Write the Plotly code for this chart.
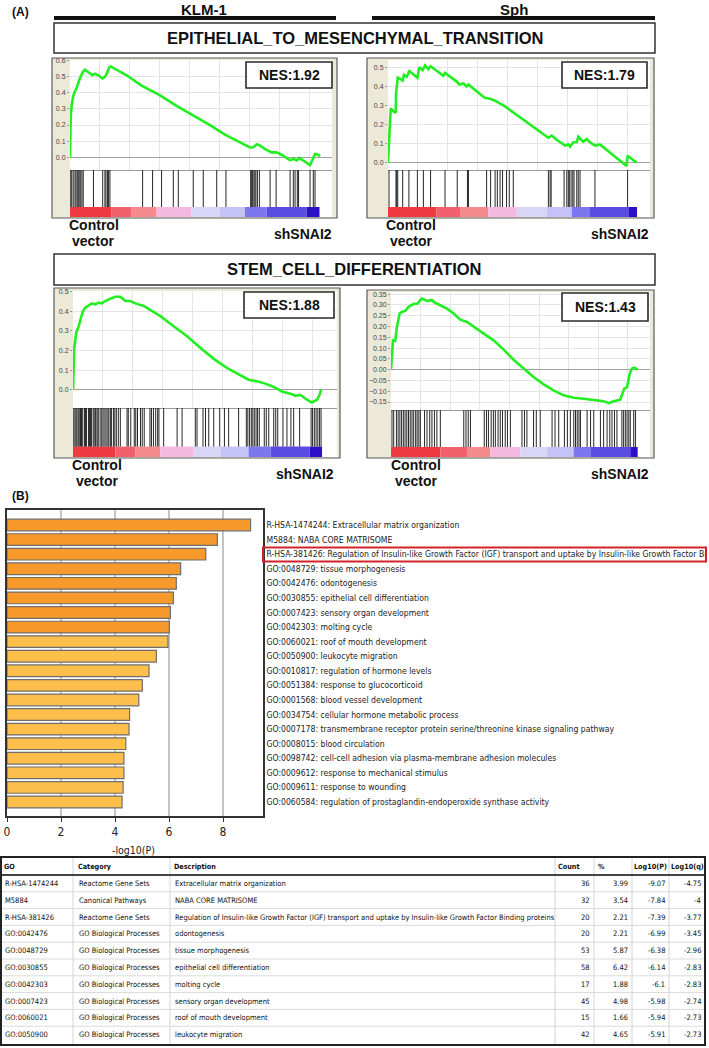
import plotly.graph_objects as go

# ======================= DATA =======================
cell_lines = ["KLM-1", "Sph"]
gene_sets = ["EPITHELIAL_TO_MESENCHYMAL_TRANSITION", "STEM_CELL_DIFFERENTIATION"]
nes_scores = ["1.92", "1.79", "1.88", "1.43"]
pheno_pos = ["Control", "vector"]
pheno_neg = "shSNAI2"

# running enrichment score (x = position in ranked list, %)
emt_klm_rank = [0, 0.3, 0.7, 1.3, 2.0, 2.9, 3.7, 4.3, 5.1, 6.0, 7.4, 9.0, 10.0, 11.4, 13.0, 14.0, 14.7,
                15.8, 16.3, 22.7, 28.7, 32.7, 36.1, 42.7, 49.4, 56.1, 62.1, 65.5, 68.8, 72.1, 73.5, 74.8,
                76.2, 78.2, 80.8, 82.8, 84.8, 88.2, 89.5, 90.8, 91.9, 93.8, 96.2, 97.5, 98.2, 99.5, 100.2]
emt_klm_es = [0, 0.26, 0.33, 0.38, 0.41, 0.44, 0.48, 0.50, 0.53, 0.545, 0.53, 0.51, 0.52, 0.51, 0.49, 0.50,
              0.52, 0.56, 0.565, 0.51, 0.445, 0.415, 0.385, 0.32, 0.26, 0.20, 0.14, 0.113, 0.086, 0.06,
              0.062, 0.08, 0.072, 0.05, 0.03, 0.03, 0.015, -0.02, -0.01, -0.02, -0.005, -0.025, -0.05,
              -0.005, 0.02, 0.015, 0.005]
emt_klm_hits = [0.3, 0.7, 1.3, 2.0, 2.4, 2.9, 3.3, 3.7, 4.3, 4.8, 5.3, 9.4, 13.1, 14.0, 14.4, 15.0, 15.4,
                16.0, 29.1, 33.1, 36.7, 41.4, 43.4, 49.4, 53.4, 58.8, 62.5, 72.4, 72.8, 73.2, 73.7, 74.1,
                74.5, 75.1, 75.9, 80.2, 82.6, 88.2, 89.5, 90.2, 91.1, 91.6, 96.2, 97.5, 98.2]

emt_sph_rank = [0, 0.4, 0.8, 1.1, 2.2, 3.1, 3.2, 3.5, 3.9, 4.8, 5.9, 6.4, 7.5, 8.6, 9.9, 11.8, 12.6, 13.9,
                14.9, 16.2, 17.1, 19.5, 22.2, 22.9, 27.6, 28.6, 30.3, 31.6, 32.3, 36.9, 38.9, 41.0, 43.0,
                47.0, 51.7, 55.7, 59.7, 64.4, 65.7, 67.7, 71.1, 72.4, 73.1, 74.4, 75.8, 76.4, 78.4, 79.8,
                81.1, 83.1, 85.1, 90.5, 95.8, 96.2, 99.9]
emt_sph_es = [0, 0.11, 0.2, 0.285, 0.27, 0.26, 0.355, 0.40, 0.445, 0.44, 0.43, 0.46, 0.45, 0.48, 0.465,
              0.445, 0.50, 0.485, 0.51, 0.49, 0.505, 0.48, 0.455, 0.47, 0.425, 0.41, 0.415, 0.40, 0.41,
              0.36, 0.34, 0.335, 0.325, 0.295, 0.25, 0.215, 0.177, 0.131, 0.142, 0.12, 0.09, 0.096, 0.084,
              0.107, 0.107, 0.136, 0.11, 0.124, 0.107, 0.09, 0.096, 0.04, -0.017, 0.037, 0.0]
emt_sph_hits = [0.4, 3.2, 3.5, 3.9, 5.9, 8.4, 11.8, 14.2, 17.1, 22.9, 27.8, 31.9, 32.3, 39.6, 41.2, 43.0,
                43.9, 45.0, 46.0, 47.6, 48.7, 50.3, 64.4, 65.1, 65.5, 70.7, 71.8, 72.4, 72.8, 73.5, 74.2,
                74.7, 75.8, 76.4, 77.1, 83.1, 96.2]

stem_klm_rank = [0, 0.25, 0.5, 1.3, 2.3, 3.2, 4.0, 4.9, 6.3, 7.6, 8.95, 10.3, 11.6, 13.0, 15.0, 17.0, 19.0,
                 21.0, 23.0, 25.0, 28.4, 31.7, 35.1, 40.4, 45.8, 51.1, 56.5, 61.8, 67.2, 70.5, 73.9, 77.2,
                 80.6, 83.9, 87.3, 89.3, 91.3, 93.9, 95.9, 98.0, 99.0, 99.6]
stem_klm_es = [0, 0.16, 0.213, 0.29, 0.323, 0.366, 0.40, 0.417, 0.429, 0.439, 0.434, 0.443, 0.439, 0.451,
               0.463, 0.473, 0.473, 0.451, 0.451, 0.439, 0.426, 0.40, 0.374, 0.323, 0.272, 0.213, 0.157,
               0.111, 0.071, 0.051, 0.043, 0.031, 0.014, -0.009, -0.02, -0.031, -0.026, -0.051, -0.065,
               -0.051, -0.026, 0.0]
stem_klm_hits = [0.3, 0.8, 1.2, 1.6, 2.1, 2.5, 3.0, 3.4, 3.9, 4.6, 5.0, 5.4, 6.2, 6.6, 7.0, 7.4, 8.1, 8.5,
                 9.0, 9.6, 10.0, 10.4, 11.2, 11.6, 12.1, 12.8, 13.3, 14.0, 14.4, 15.0, 15.5, 16.3, 16.8,
                 17.4, 18.2, 19.0, 21.7, 22.2, 23.2, 24.6, 25.2, 25.9, 27.1, 27.8, 28.6, 30.9, 31.5, 32.3,
                 33.2, 34.0, 34.5, 36.4, 41.8, 43.8, 49.1, 49.8, 52.2, 53.2, 54.5, 56.5, 58.9, 60.8, 62.5,
                 66.5, 69.6, 70.2, 70.9, 71.6, 72.2, 72.8, 73.5, 74.1, 74.8, 76.8, 77.6, 78.6, 80.6, 81.4,
                 82.2, 84.3, 85.9, 87.5, 88.6, 91.0, 95.6, 96.2, 96.9, 97.6, 98.3, 99.0, 99.6]

stem_sph_rank = [0, 0.4, 0.8, 1.7, 2.4, 3.5, 4.4, 5.8, 7.1, 9.2, 10.8, 11.9, 12.5, 14.6, 16.6, 17.9, 20.0,
                 22.7, 25.4, 28.1, 30.8, 33.5, 37.6, 41.6, 45.7, 49.7, 53.8, 57.8, 61.9, 65.9, 70.0, 74.1,
                 78.1, 82.2, 86.2, 88.2, 90.3, 92.9, 94.6, 95.7, 96.8, 97.7, 98.7, 100]
stem_sph_es = [0, 0.074, 0.136, 0.133, 0.198, 0.26, 0.268, 0.273, 0.291, 0.304, 0.307, 0.322, 0.33, 0.319,
               0.322, 0.31, 0.299, 0.283, 0.26, 0.232, 0.221, 0.198, 0.167, 0.136, 0.093, 0.046, 0.005,
               -0.034, -0.068, -0.096, -0.119, -0.13, -0.135, -0.139, -0.146, -0.155, -0.146, -0.139,
               -0.088, -0.081, -0.019, 0.005, 0.009, 0.0]
stem_sph_hits = [0.4, 1.1, 2.2, 2.9, 3.6, 4.3, 5.0, 5.7, 6.4, 7.1, 7.8, 8.5, 9.2, 10.0, 10.6, 11.3, 11.9,
                 13.6, 14.6, 15.7, 16.6, 17.6, 18.6, 20.0, 29.5, 30.4, 31.3, 32.2, 37.8, 38.7, 39.5, 40.6,
                 41.5, 42.3, 43.4, 44.3, 45.2, 46.3, 47.2, 48.4, 53.1, 54.1, 55.1, 57.8, 58.9, 60.5, 65.3,
                 66.5, 68.0, 70.3, 71.5, 72.7, 74.1, 74.8, 75.5, 76.2, 76.8, 79.5, 80.9, 82.2, 84.9, 86.2,
                 87.6, 88.7, 89.6, 90.6, 91.6, 93.6, 94.3, 95.0, 95.7, 96.4, 97.0, 98.4, 99.1]

# ranked-list metric colour band
rank_metric_colors = ["#EE3A40", "#F2606E", "#F58A8C", "#F5B8E0", "#D8D5F7",
                      "#C4C2F7", "#7C77EE", "#5A4CE2", "#2C10C6"]
emt_klm_breaks = [0, 16.7, 24.7, 34.7, 48.7, 60.1, 70.1, 78.8, 94.8, 100]
emt_sph_breaks = [0, 19.5, 28.9, 40.3, 51.7, 63.7, 73.8, 81.1, 96.5, 100]
stem_klm_breaks = [0, 17.0, 25.1, 35.1, 48.5, 59.2, 70.5, 79.3, 95.0, 100]
stem_sph_breaks = [0, 20.0, 30.8, 40.3, 52.4, 63.3, 74.0, 80.8, 97.0, 100]

# (B) enrichment bar chart
bar_terms = [
    "R-HSA-1474244: Extracellular matrix organization",
    "M5884: NABA CORE MATRISOME",
    "R-HSA-381426: Regulation of Insulin-like Growth Factor (IGF) transport and uptake by Insulin-like Growth Factor Bi",
    "GO:0048729: tissue morphogenesis",
    "GO:0042476: odontogenesis",
    "GO:0030855: epithelial cell differentiation",
    "GO:0007423: sensory organ development",
    "GO:0042303: molting cycle",
    "GO:0060021: roof of mouth development",
    "GO:0050900: leukocyte migration",
    "GO:0010817: regulation of hormone levels",
    "GO:0051384: response to glucocorticoid",
    "GO:0001568: blood vessel development",
    "GO:0034754: cellular hormone metabolic process",
    "GO:0007178: transmembrane receptor protein serine/threonine kinase signaling pathway",
    "GO:0008015: blood circulation",
    "GO:0098742: cell-cell adhesion via plasma-membrane adhesion molecules",
    "GO:0009612: response to mechanical stimulus",
    "GO:0009611: response to wounding",
    "GO:0060584: regulation of prostaglandin-endoperoxide synthase activity",
]
bar_neglog10p = [9.02, 7.79, 7.36, 6.43, 6.27, 6.16, 6.05, 6.01, 5.96, 5.53,
                 5.26, 5.01, 4.88, 4.54, 4.52, 4.40, 4.33, 4.33, 4.30, 4.26]
bar_top_group = 8   # number of darker (top) bars
highlight_term = 2

# table
table_header = ["GO", "Category", "Description", "Count", "%", "Log10(P)", "Log10(q)"]
table_go = ["R-HSA-1474244", "M5884", "R-HSA-381426", "GO:0042476", "GO:0048729", "GO:0030855",
            "GO:0042303", "GO:0007423", "GO:0060021", "GO:0050900"]
table_category = ["Reactome Gene Sets", "Canonical Pathways", "Reactome Gene Sets"] + ["GO Biological Processes"] * 7
table_description = ["Extracellular matrix organization", "NABA CORE MATRISOME",
                     "Regulation of Insulin-like Growth Factor (IGF) transport and uptake by Insulin-like Growth Factor Binding proteins",
                     "odontogenesis", "tissue morphogenesis", "epithelial cell differentiation", "molting cycle",
                     "sensory organ development", "roof of mouth development", "leukocyte migration"]
table_count = [36, 32, 20, 20, 53, 58, 17, 45, 15, 42]
table_percent = ["3.99", "3.54", "2.21", "2.21", "5.87", "6.42", "1.88", "4.98", "1.66", "4.65"]
table_log10p = ["-9.07", "-7.84", "-7.39", "-6.99", "-6.38", "-6.14", "-6.1", "-5.98", "-5.94", "-5.91"]
table_log10q = ["-4.75", "-4", "-3.77", "-3.45", "-2.96", "-2.83", "-2.83", "-2.74", "-2.73", "-2.73"]

# ======================= LAYOUT HELPERS =======================
W, H = 709, 1048
def X(p): return p / W
def Y(p): return 1 - p / H

FONT = "Liberation Sans, Arial, sans-serif"
NARROW = "DejaVu Sans Condensed, Liberation Sans Narrow, sans-serif"
BEIGE = "#ECE9D8"
GREEN = "#22EE22"

fig = go.Figure()
shapes, annotations, axes = [], [], {}

def note(x, y, text, size, family=FONT, xanchor="center", color="#111", pad=1):
    annotations.append(dict(x=X(x), y=Y(y), xref="paper", yref="paper", text=text, showarrow=False,
                            xanchor=xanchor, yanchor="middle", borderpad=pad,
                            font=dict(size=size, color=color, family=family)))

def ax_names(n):
    return ("xaxis" if n == 1 else f"xaxis{n}", "yaxis" if n == 1 else f"yaxis{n}",
            "x" if n == 1 else f"x{n}", "y" if n == 1 else f"y{n}")

panels = [
    dict(rank=emt_klm_rank, es=emt_klm_es, hits=emt_klm_hits, breaks=emt_klm_breaks, nes=nes_scores[0],
         frame=(52, 58, 337, 218), plot=(70, 60, 332, 170, 217), xmax=105.0, yr=(-0.08, 0.605),
         dtick=0.1, fmt=".1f", nes_box=(246, 62, 332, 88), ctrl_x=94, sh_x=303, lab_y=225),
    dict(rank=emt_sph_rank, es=emt_sph_es, hits=emt_sph_hits, breaks=emt_sph_breaks, nes=nes_scores[1],
         frame=(367, 58, 654, 218), plot=(388, 60, 650, 170, 217), xmax=105.2, yr=(-0.038, 0.538),
         dtick=0.1, fmt=".1f", nes_box=(562, 62, 647, 88), ctrl_x=411, sh_x=620, lab_y=225),
    dict(rank=stem_klm_rank, es=stem_klm_es, hits=stem_klm_hits, breaks=stem_klm_breaks, nes=nes_scores[2],
         frame=(54, 288, 340, 458), plot=(73, 291, 337, 408, 457), xmax=106.0, yr=(-0.093, 0.502),
         dtick=0.1, fmt=".1f", nes_box=(244, 292, 334, 318), ctrl_x=97, sh_x=305, lab_y=465),
    dict(rank=stem_sph_rank, es=stem_sph_es, hits=stem_sph_hits, breaks=stem_sph_breaks, nes=nes_scores[3],
         frame=(367, 290, 654, 458), plot=(391, 292, 650, 410, 457), xmax=105.0, yr=(-0.187, 0.36),
         dtick=0.05, fmt=".2f", nes_box=(562, 293, 648, 321), ctrl_x=416, sh_x=620, lab_y=465),
]

for i, p in enumerate(panels):
    l, t, r, mid, b = p["plot"]
    fl, ft, fr, fb = p["frame"]
    shapes.append(dict(type="rect", xref="paper", yref="paper", x0=X(fl), x1=X(fr), y0=Y(fb), y1=Y(ft),
                       fillcolor=BEIGE, line=dict(color="#5A5A5A", width=1.2), layer="below"))
    shapes.append(dict(type="rect", xref="paper", yref="paper", x0=X(l), x1=X(r), y0=Y(b), y1=Y(t),
                       fillcolor="white", line=dict(width=0), layer="below"))
    nc, nh = 2 * i + 1, 2 * i + 2
    xa_c, ya_c, xr_c, yr_c = ax_names(nc)
    xa_h, ya_h, xr_h, yr_h = ax_names(nh)
    # running ES curve
    fig.add_trace(go.Scatter(x=p["rank"], y=p["es"], mode="lines", line=dict(color=GREEN, width=2.6),
                             xaxis=xr_c, yaxis=yr_c, hoverinfo="skip"))
    # hits
    hx, hy = [], []
    for h in p["hits"]:
        hx += [h, h, None]
        hy += [0, 1, None]
    fig.add_trace(go.Scatter(x=hx, y=hy, mode="lines", line=dict(color="#262626", width=1),
                             xaxis=xr_h, yaxis=yr_h, hoverinfo="skip"))
    # rank metric colour band
    br = p["breaks"]
    centers = [(br[k] + br[k + 1]) / 2 for k in range(len(br) - 1)]
    widths = [br[k + 1] - br[k] for k in range(len(br) - 1)]
    fig.add_trace(go.Bar(x=centers, y=[0.27] * len(centers), base=-0.27, width=widths,
                         marker=dict(color=rank_metric_colors, line=dict(width=0)),
                         xaxis=xr_h, yaxis=yr_h, hoverinfo="skip"))
    axes[xa_c] = dict(domain=[X(l), X(r)], range=[0, p["xmax"]], anchor=yr_c, showticklabels=False,
                      showgrid=True, gridcolor="#E4E4E4", gridwidth=1, dtick=12, tick0=0, zeroline=False,
                      showline=True, linecolor="#9A9A9A", linewidth=1, ticks="", automargin=False)
    axes[ya_c] = dict(domain=[Y(mid), Y(t)], range=list(p["yr"]), anchor=xr_c, dtick=p["dtick"],
                      tickformat=p["fmt"], tickfont=dict(size=7, color="#444", family=FONT),
                      showgrid=True, gridcolor="#E4E4E4", gridwidth=1, zeroline=True,
                      zerolinecolor="#A0A0A0", zerolinewidth=1, ticks="outside", ticklen=2,
                      tickcolor="#999", showline=False, automargin=False)
    axes[xa_h] = dict(domain=[X(l), X(r)], range=[0, p["xmax"]], anchor=yr_h, showticklabels=False,
                      showgrid=False, zeroline=False, ticks="", showline=False, automargin=False)
    axes[ya_h] = dict(domain=[Y(b), Y(mid)], range=[-0.27, 1], anchor=xr_h, showticklabels=False,
                      showgrid=False, zeroline=False, ticks="", showline=False, automargin=False)
    # NES box
    nl, nt, nr, nb = p["nes_box"]
    shapes.append(dict(type="rect", xref="paper", yref="paper", x0=X(nl), x1=X(nr), y0=Y(nb), y1=Y(nt),
                       fillcolor="white", line=dict(color="#2A2A2A", width=1.6)))
    note((nl + nr) / 2, (nt + nb) / 2, f"<b>NES:{p['nes']}</b>", 14)
    # phenotype labels
    ly = p["lab_y"]
    note(p["ctrl_x"], ly, f"<b>{pheno_pos[0]}</b>", 14)
    note(p["ctrl_x"], ly + 16, f"<b>{pheno_pos[1]}</b>", 14)
    note(p["sh_x"], ly + 9, f"<b>{pheno_neg}</b>", 14)

# section A headers
note(10, 12, "<b>(A)</b>", 12, xanchor="left")
for name, (lx0, lx1, cx) in zip(cell_lines, [(54, 336, 204), (372, 655, 514)]):
    note(cx, 10, f"<b>{name}</b>", 15, pad=0)
    shapes.append(dict(type="line", xref="paper", yref="paper", x0=X(lx0), x1=X(lx1), y0=Y(18), y1=Y(18),
                       line=dict(color="#111", width=4)))
for gs, (bt, bb) in zip(gene_sets, [(23, 53), (254, 285)]):
    shapes.append(dict(type="rect", xref="paper", yref="paper", x0=X(54), x1=X(655), y0=Y(bb), y1=Y(bt),
                       fillcolor="white", line=dict(color="#333", width=1.5)))
    note(354.5, (bt + bb) / 2, f"<b>{gs}</b>", 16.5)

# ======================= (B) BAR CHART =======================
note(10, 496, "<b>(B)</b>", 12, xanchor="left")
bar_colors = ["#F7992B" if k < bar_top_group else "#FDBF4B" for k in range(len(bar_terms))]
fig.add_trace(go.Bar(y=bar_terms, x=bar_neglog10p, orientation="h", xaxis="x9", yaxis="y9",
                     marker=dict(color=bar_colors, line=dict(color="#6E6E6E", width=1.2)),
                     hoverinfo="skip"))
axes["xaxis9"] = dict(domain=[X(7), X(263)], range=[0, 9.48], anchor="y9", dtick=2, tick0=0,
                      showgrid=True, gridcolor="#C4C4C4", gridwidth=1.5, zeroline=False,
                      showline=True, mirror=True, linecolor="#333", linewidth=1.5,
                      ticks="outside", ticklen=4, tickcolor="#333", automargin=False,
                      tickfont=dict(size=12, color="#222", family=NARROW))
axes["yaxis9"] = dict(domain=[Y(816), Y(510)], type="category", range=[19.96, -1.03], anchor="x9",
                      side="right", showline=True, mirror=True, linecolor="#333", linewidth=1.5,
                      ticks="", showgrid=False, automargin=False,
                      tickfont=dict(size=8.6, color="#222", family=NARROW))
note(133, 850, "-log10(P)", 10.5, family=NARROW, color="#222")
shapes.append(dict(type="rect", xref="paper", yref="y9", x0=X(263), x1=X(706),
                   y0=highlight_term - 0.45, y1=highlight_term + 0.5,
                   line=dict(color="#D2232A", width=2), fillcolor="rgba(0,0,0,0)"))

# ======================= TABLE =======================
t_top, t_head_bot, t_bot, t_left, t_right = 857, 875, 1045, 1, 705
row_step = 16.8
col_lines = [73, 170, 555, 594, 632, 669]
head_x = [3, 77, 173, 557, 597, 633, 670]
cell_pos = [(3, "left"), (77, "left"), (173, "left"), (592, "right"), (630, "right"), (667, "right"), (703, "right")]
TFS = 7.5
for cx in col_lines:
    shapes.append(dict(type="line", xref="paper", yref="paper", x0=X(cx), x1=X(cx), y0=Y(t_bot), y1=Y(t_top),
                       line=dict(color="#D4D4D4", width=1)))
for k in range(1, len(table_go)):
    yy = t_head_bot + row_step * k
    shapes.append(dict(type="line", xref="paper", yref="paper", x0=X(t_left), x1=X(t_right), y0=Y(yy), y1=Y(yy),
                       line=dict(color="#DADADA", width=1)))
shapes.append(dict(type="line", xref="paper", yref="paper", x0=X(t_left), x1=X(t_right),
                   y0=Y(t_head_bot), y1=Y(t_head_bot), line=dict(color="#444", width=2)))
shapes.append(dict(type="rect", xref="paper", yref="paper", x0=X(t_left), x1=X(t_right), y0=Y(t_bot), y1=Y(t_top),
                   line=dict(color="#222", width=2), fillcolor="rgba(0,0,0,0)"))
for hx_, htxt in zip(head_x, table_header):
    note(hx_, (t_top + t_head_bot) / 2, f"<b>{htxt}</b>", 7.2, family=NARROW, xanchor="left", pad=0)
columns = [table_go, table_category, table_description, [str(c) for c in table_count],
           table_percent, table_log10p, table_log10q]
for ci, col in enumerate(columns):
    cx, anc = cell_pos[ci]
    for ri, val in enumerate(col):
        note(cx, t_head_bot + row_step * (ri + 0.5), val, TFS, family=NARROW, xanchor=anc)

fig.update_layout(width=W, height=H, margin=dict(l=0, r=0, t=0, b=0, autoexpand=False), showlegend=False,
                  paper_bgcolor="white", plot_bgcolor="rgba(0,0,0,0)", bargap=0.2,
                  font=dict(family=FONT), shapes=shapes, annotations=annotations, **axes)
fig.write_html("out.html", config={"displayModeBar": False},
               post_script="document.body.style.margin='0px';document.body.style.overflow='hidden';")
